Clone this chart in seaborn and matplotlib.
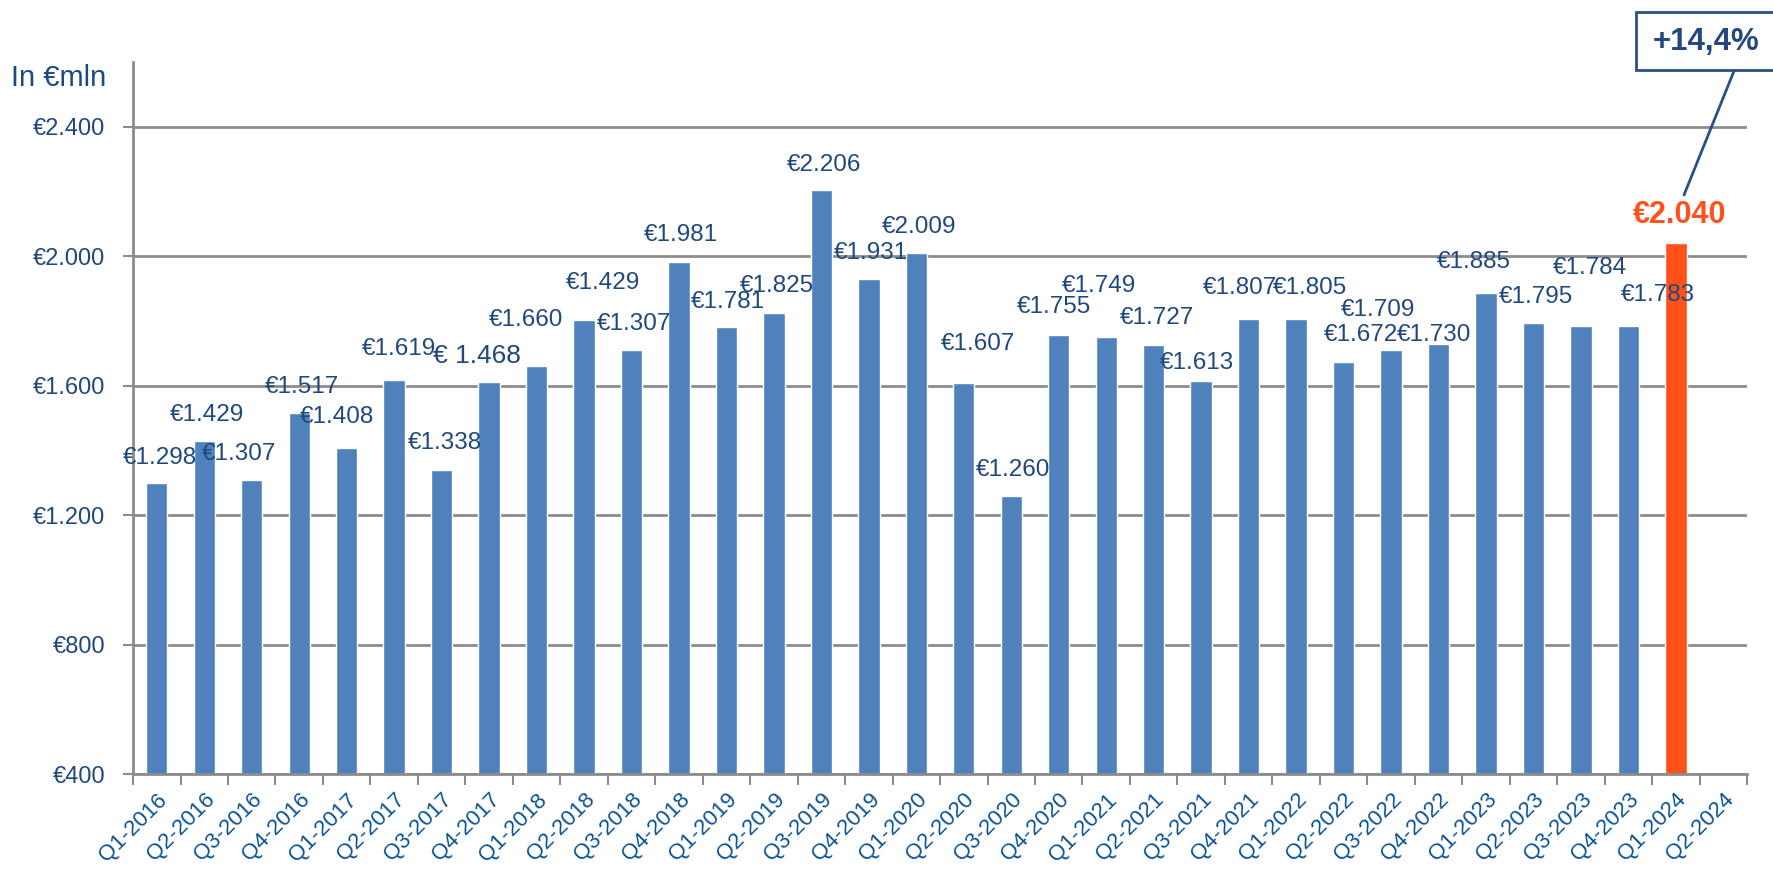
import matplotlib
matplotlib.use("Agg")
import matplotlib.pyplot as plt
import seaborn as sns
import pandas as pd
from matplotlib.patches import Rectangle

# ---------------- data ----------------
quarters = ["Q1-2016", "Q2-2016", "Q3-2016", "Q4-2016",
            "Q1-2017", "Q2-2017", "Q3-2017", "Q4-2017",
            "Q1-2018", "Q2-2018", "Q3-2018", "Q4-2018",
            "Q1-2019", "Q2-2019", "Q3-2019", "Q4-2019",
            "Q1-2020", "Q2-2020", "Q3-2020", "Q4-2020",
            "Q1-2021", "Q2-2021", "Q3-2021", "Q4-2021",
            "Q1-2022", "Q2-2022", "Q3-2022", "Q4-2022",
            "Q1-2023", "Q2-2023", "Q3-2023", "Q4-2023",
            "Q1-2024", "Q2-2024"]
values = [1298, 1429, 1307, 1517,
          1408, 1619, 1338, 1612,
          1660, 1803, 1710, 1981,
          1781, 1825, 2206, 1931,
          2009, 1607, 1260, 1755,
          1749, 1727, 1613, 1807,
          1805, 1672, 1709, 1730,
          1885, 1795, 1784, 1783,
          2040]
value_labels = ["€1.298", "€1.429", "€1.307", "€1.517",
                "€1.408", "€1.619", "€1.338", "€ 1.468",
                "€1.660", "€1.429", "€1.307", "€1.981",
                "€1.781", "€1.825", "€2.206", "€1.931",
                "€2.009", "€1.607", "€1.260", "€1.755",
                "€1.749", "€1.727", "€1.613", "€1.807",
                "€1.805", "€1.672", "€1.709", "€1.730",
                "€1.885", "€1.795", "€1.784", "€1.783",
                "€2.040"]
y_ticks = [400, 800, 1200, 1600, 2000, 2400]
y_tick_labels = ["€400", "€800", "€1.200", "€1.600", "€2.000", "€2.400"]
unit_label = "In €mln"
growth_label = "+14,4%"

# ---------------- layout / style ----------------
# label nudges in pixels relative to bar top (dx, dy above)
label_dx = [3, 3, -13, 3, -10, 5, 3, -12, -10, 19, 3, 2, 2, 3, 3, 2, 3, 14, 2, -5,
            -7, 3, -4, -9, 14, 17, -13, -4, -12, 3, 9, 30, 4]
label_dy = [25, 26, 26, 26, 31, 31, 27, 26, 46, 37, 26, 27, 25, 27, 25, 26, 26, 39, 26, 28,
            51, 27, 18, 31, 31, 27, 40, 9, 31, 26, 58, 31, 28]

BLUE = "#4F81BD"
ORANGE = "#FF5119"
NAVY = "#1F497D"
XCOL = "#0B5394"
GRID = "#8C8C8C"

sns.set_theme(style="white")
plt.rcParams["font.family"] = ["Liberation Sans", "DejaVu Sans"]

fig = plt.figure(figsize=(17.74, 8.76), dpi=100)
ax = fig.add_axes([0.075, 0.1164, 0.9098, 0.8128])

df = pd.DataFrame({"quarter": quarters[:len(values)], "value": values})
colors = {q: BLUE for q in quarters}
colors[quarters[len(values) - 1]] = ORANGE
sns.barplot(data=df, x="quarter", y="value", hue="quarter", palette=colors,
            order=quarters, hue_order=quarters, width=0.45, legend=False,
            ax=ax, saturation=1, dodge=False)

ax.set_ylim(400, 2600)
ax.set_xlim(-0.5, len(quarters) - 0.5)
ax.set_xlabel("")
ax.set_ylabel("")

# grid
ax.set_yticks(y_ticks)
ax.set_yticklabels(y_tick_labels, color=NAVY, fontsize=17)
ax.yaxis.grid(True, color=GRID, linewidth=2)
ax.set_axisbelow(True)
ax.tick_params(axis="y", which="major", length=7, width=1.5, color=GRID, pad=13, left=True)

# x ticks: labels at centers, tick marks at boundaries
ax.set_xticks(range(len(quarters)))
ax.set_xticklabels(quarters, rotation=45, ha="right", rotation_mode="anchor",
                   color=XCOL, fontsize=16)
ax.tick_params(axis="x", which="major", length=0, pad=11)
ax.set_xticks([i - 0.5 for i in range(len(quarters) + 1)], minor=True)
ax.tick_params(axis="x", which="minor", length=8, width=1.5, color=GRID, bottom=True)

for s in ["top", "right"]:
    ax.spines[s].set_visible(False)
for s in ["left", "bottom"]:
    ax.spines[s].set_color(GRID)
    ax.spines[s].set_linewidth(2)

# value labels
n = len(values)
for i, (v, lab) in enumerate(zip(values, value_labels)):
    last = i == n - 1
    ax.annotate(lab, xy=(i, v), xytext=(label_dx[i], label_dy[i]),
                textcoords="offset pixels", ha="center", va="center",
                fontsize=(22 if last else (19 if lab.startswith("€ ") else 17.5)),
                fontweight=("bold" if last else "normal"),
                color=(ORANGE if last else NAVY))

# unit label
fig.text(11 / 1774, 1 - 78 / 876, unit_label, fontsize=21, color=NAVY,
         ha="left", va="center")

# callout box with growth
bx0, by0, bx1, by1 = 1636, 12, 1785, 70
fig.patches.append(Rectangle((bx0 / 1774, 1 - by1 / 876), (bx1 - bx0) / 1774,
                             (by1 - by0) / 876, transform=fig.transFigure,
                             fill=True, facecolor="white", edgecolor="#2A5087",
                             linewidth=2, clip_on=False))
fig.text(1706 / 1774, 1 - 42 / 876, growth_label, fontsize=22.5, fontweight="bold",
         color="#24477F", ha="center", va="center")
fig.add_artist(plt.Line2D([1734 / 1774, 1684 / 1774], [1 - 71 / 876, 1 - 195 / 876],
                          transform=fig.transFigure, color="#2A5087", linewidth=2))

fig.savefig("out.png", dpi=100)
